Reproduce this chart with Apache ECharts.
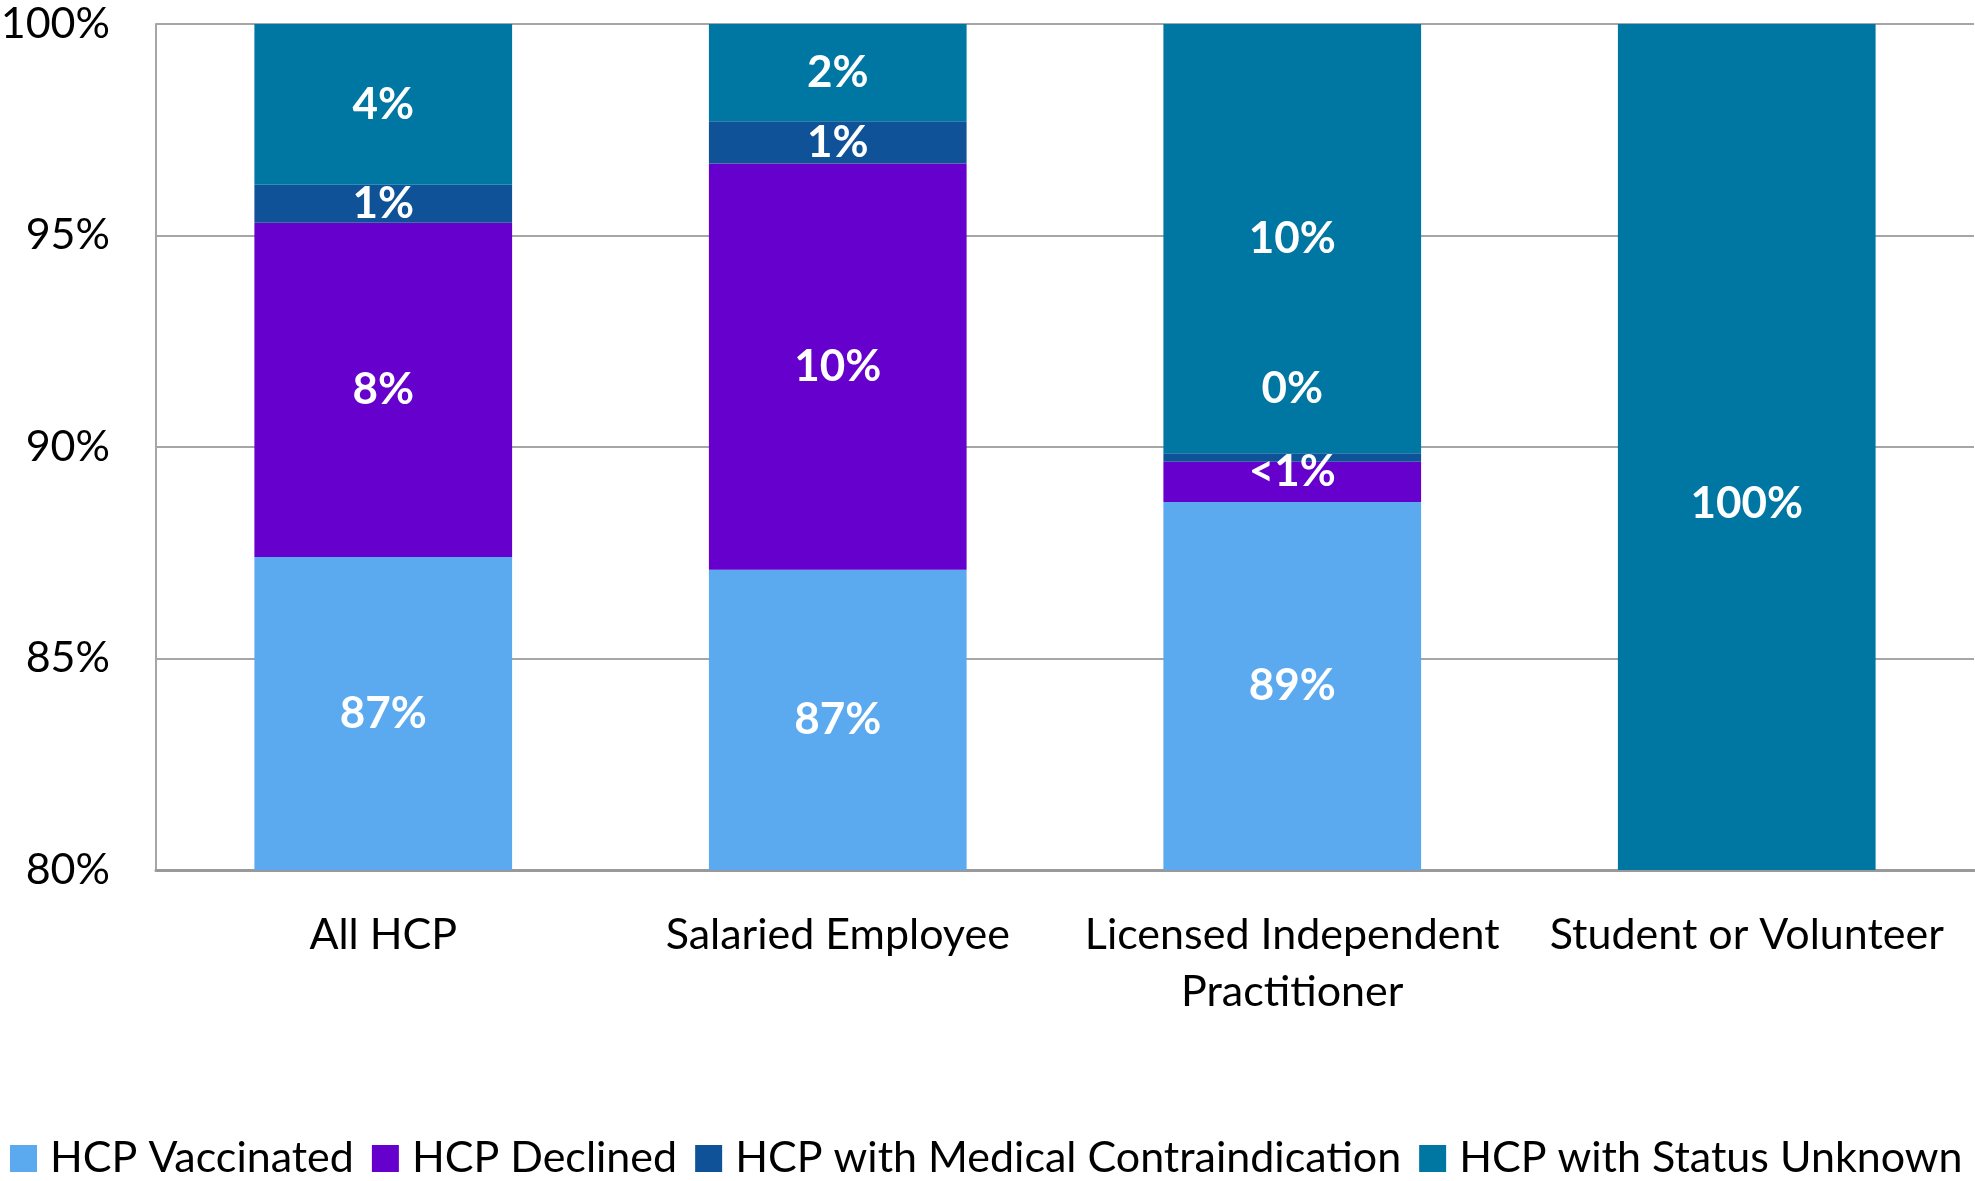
<!DOCTYPE html>
<html>
<head>
<meta charset="utf-8">
<script src="https://cdn.jsdelivr.net/npm/echarts@6/dist/echarts.min.js"></script>
<style>
  html, body { margin: 0; padding: 0; background: #fff; }
  #main { width: 1975px; height: 1181px; }
</style>
</head>
<body>
<div id="main"></div>
<script>
// data (percent of HCP)
var categories = ['All HCP', 'Salaried Employee', 'Licensed Independent\nPractitioner', 'Student or Volunteer'];
var seriesNames = ['HCP Vaccinated', 'HCP Declined', 'HCP with Medical Contraindication', 'HCP with Status Unknown'];

var vaccinated = [87.4, 87.1, 88.7, 0];
var declined = [7.9, 9.6, 0.95, 0];
var contraindication = [0.9, 1.0, 0.2, 0];
var unknown = [3.8, 2.3, 10.15, 100];

var vaccinatedText = ['87%', '87%', '89%', ''];
var declinedText = ['8%', '10%', '<1%', ''];
var contraindicationText = ['1%', '1%', '0%', ''];
var unknownText = ['4%', '2%', '10%', '100%'];

var yTicks = [80, 85, 90, 95, 100];

var colors = ['#5BAAF0', '#6600CC', '#0F5297', '#0077A3'];
var fontName = 'Lato';

function buildSeries(name, values, texts, color, offsets) {
  return {
    name: name,
    type: 'bar',
    stack: 'total',
    barWidth: '56.7%',
    itemStyle: { color: color },
    label: {
      show: true,
      position: 'inside',
      color: '#fff',
      fontFamily: fontName,
      fontWeight: 'bold',
      fontSize: 44,
      formatter: function (p) {
        return texts[p.dataIndex];
      }
    },
    data: values.map(function (v, i) {
      var item = { value: v };
      if (offsets && offsets[i]) {
        item.label = { offset: [0, offsets[i]] };
      }
      return item;
    })
  };
}

var chart = echarts.init(document.getElementById('main'));

var option = {
  animation: false,
  color: colors,
  grid: {
    left: 156,
    right: 1,
    top: 24,
    bottom: 311,
    outerBoundsMode: 'none'
  },
  legend: {
    left: 5,
    top: 1132,
    width: 1970,
    itemWidth: 27,
    itemHeight: 27,
    itemGap: 18,
    icon: 'rect',
    textStyle: {
      fontFamily: fontName,
      fontSize: 43,
      color: '#000',
      padding: [0, 0, 0, 8]
    },
    data: seriesNames
  },
  xAxis: {
    type: 'category',
    data: categories,
    axisTick: { show: false },
    axisLine: { lineStyle: { color: '#999', width: 3 } },
    axisLabel: {
      interval: 0,
      color: '#000',
      fontFamily: fontName,
      fontSize: 43,
      lineHeight: 57,
      margin: 37
    }
  },
  yAxis: {
    type: 'value',
    min: yTicks[0],
    max: yTicks[yTicks.length - 1],
    interval: yTicks[1] - yTicks[0],
    axisLine: { show: true, lineStyle: { color: '#A6A6A6', width: 2 } },
    axisTick: { show: false },
    splitLine: { lineStyle: { color: '#A6A6A6', width: 2 } },
    axisLabel: {
      color: '#000',
      fontFamily: fontName,
      fontSize: 43,
      margin: 46,
      formatter: '{value}%'
    }
  },
  series: [
    buildSeries(seriesNames[0], vaccinated, vaccinatedText, colors[0]),
    buildSeries(seriesNames[1], declined, declinedText, colors[1], [0, 0, -10, 0]),
    buildSeries(seriesNames[2], contraindication, contraindicationText, colors[2], [0, 0, -69, 0]),
    buildSeries(seriesNames[3], unknown, unknownText, colors[3], [0, 0, 0, 57])
  ]
};

chart.setOption(option);
</script>
</body>
</html>
